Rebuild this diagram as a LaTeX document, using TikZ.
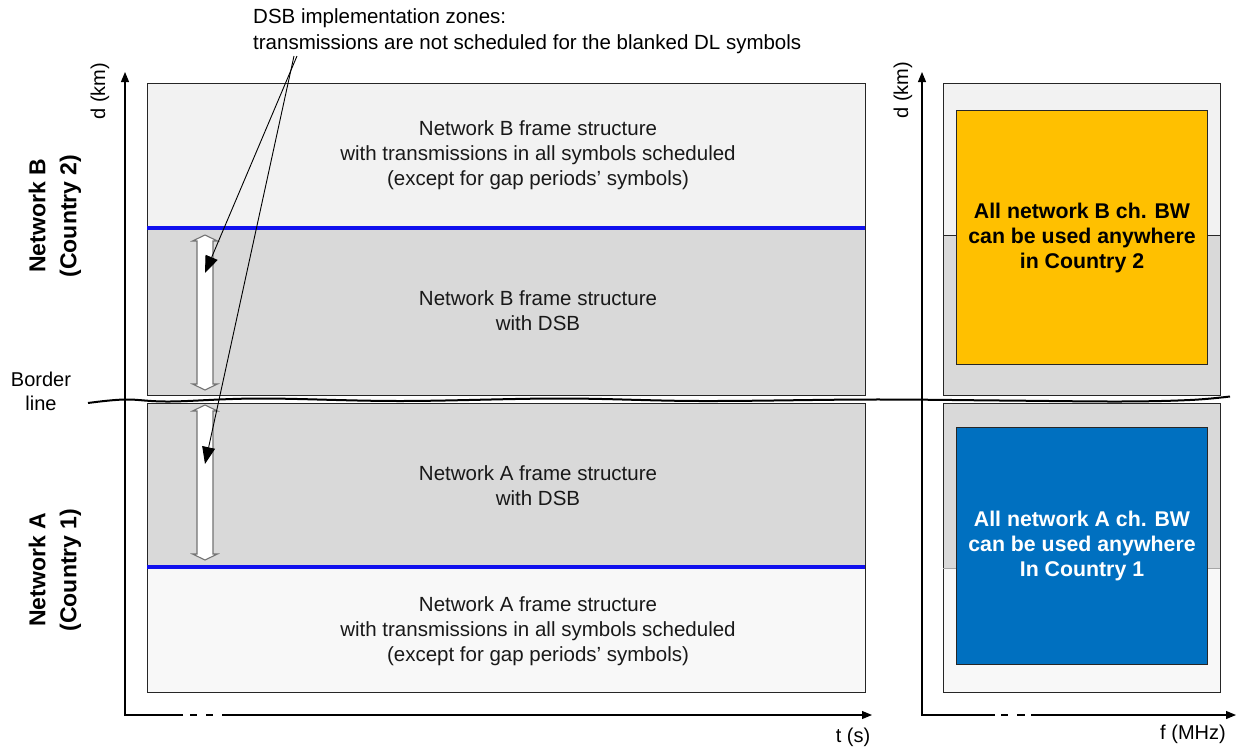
\documentclass[tikz,border=0pt]{standalone}
\usepackage{fontspec}
\setmainfont{Liberation Sans}
\usetikzlibrary{arrows.meta}
\definecolor{lightB}{HTML}{F2F2F2}
\definecolor{lightA}{HTML}{F8F8F8}
\definecolor{grayf}{HTML}{D9D9D9}
\definecolor{orangeC}{HTML}{FFC000}
\definecolor{blueC}{HTML}{0070C0}
\definecolor{blueL}{HTML}{1010EE}
\begin{document}
\begin{tikzpicture}[x=1pt,y=-1pt,
  box/.style={draw=black!85, line width=1pt},
  lbl/.style={font=\fontsize{20.5}{25}\selectfont, align=center, text=black!90},
  bl/.style={font=\bfseries\fontsize{21.3}{25}\selectfont, align=center},
  side/.style={font=\bfseries\fontsize{23}{31}\selectfont, align=center, rotate=90},
  axis/.style={line width=1.1pt, -{Triangle[length=10pt,width=8pt]}},
  axisline/.style={line width=1.1pt},
  callout/.style={line width=0.9pt, -{Triangle[length=17pt,width=13pt]}},
  dbl/.style={draw=black!55, fill=white, line width=1.1pt},
  blueline/.style={draw=blueL, line width=3.5pt},
  small/.style={font=\fontsize{20}{22}\selectfont}]
\useasboundingbox (0,0) rectangle (1237,747);
% left panel upper
\fill[lightB] (147,83) rectangle (865,228);
\fill[grayf] (147,228) rectangle (865,395);
\draw[box] (147,83) rectangle (865,395);
\draw[blueline] (147,228) -- (865,228);
% left panel lower
\fill[grayf] (147,403) rectangle (865,567);
\fill[lightA] (147,567) rectangle (865,692);
\draw[box] (147,403) rectangle (865,692);
\draw[blueline] (147,567) -- (865,567);
% right panel
\fill[lightB] (943,83) rectangle (1220,235);
\fill[grayf] (943,235) rectangle (1220,395);
\draw[box] (943,83) rectangle (1220,395);
\draw[black!85, line width=1pt] (943,235) -- (1220,235);
\fill[grayf] (943,403) rectangle (1220,568);
\fill[lightA] (943,568) rectangle (1220,692);
\draw[box] (943,403) rectangle (1220,692);
\draw[gray!70, line width=0.8pt] (943,568) -- (1220,568);
\node[draw=black!85, line width=1pt, fill=orangeC, minimum width=251pt, minimum height=254pt, inner sep=0pt, anchor=north west, bl] (ob) at (956,110) {All network B ch. BW\\can be used anywhere\\in Country 2};
\node[draw=black!85, line width=1pt, fill=blueC, minimum width=251pt, minimum height=237pt, inner sep=0pt, anchor=north west, bl, text=white] (bb) at (956,427) {All network A ch. BW\\can be used anywhere\\In Country 1};
% texts in left panel
\node[lbl] (t1) at (538,155) {Network B frame structure\\with transmissions in all symbols scheduled\\(except for gap periods’ symbols)};
\node[lbl] (t2) at (538,311) {Network B frame structure\\with DSB};
\node[lbl] (t3) at (538,486) {Network A frame structure\\with DSB};
\node[lbl] (t4) at (538,631) {Network A frame structure\\with transmissions in all symbols scheduled\\(except for gap periods’ symbols)};
% double arrows
\newcommand{\dblarr}[3]{\draw[dbl] (#1,#2) -- (#1+12.5,#2+6) -- (#1+8,#2+6) -- (#1+8,#3-6) -- (#1+12.5,#3-6) -- (#1,#3) -- (#1-12.5,#3-6) -- (#1-8,#3-6) -- (#1-8,#2+6) -- (#1-12.5,#2+6) -- cycle;}
\dblarr{205}{235}{390}
\dblarr{205}{405}{560}
% border line
\draw[line width=2pt] plot[smooth, tension=0.6] coordinates {(88,403) (125,399.5) (170,401.5) (260,398.5) (400,401) (560,398.5) (700,401) (870,399.5) (1000,400.5) (1120,401.5) (1190,400) (1230,396.5)};
\node[font=\fontsize{20}{24}\selectfont, align=center] (border) at (41,391) {Border\\line};
% axes left
\draw[axis] (183,715) -- (125,715) -- (125,72);
\draw[axisline] (190,715) -- (197,715) (206,715) -- (213,715);
\draw[axis] (222,715) -- (872,715);
% axes right
\draw[axis] (995,715) -- (922,715) -- (922,72);
\draw[axisline] (1001,715) -- (1008,715) (1017,715) -- (1025,715);
\draw[axis] (1031,715) -- (1236,715);
\node[small, rotate=90] (dl) at (100,91) {d (km)};
\node[small, rotate=90] (dr) at (903,90) {d (km)};
\node[small] (ts) at (853,737) {t (s)};
\node[small] (fm) at (1193,734) {f (MHz)};
% side labels
\node[side] (nb) at (55,216) {Network B\\(Country 2)};
\node[side] (na) at (55,570) {Network A\\(Country 1)};
% callout
\node[font=\fontsize{20.5}{26}\selectfont, align=left, anchor=north west, inner sep=0pt] (dsb) at (253,8) {DSB implementation zones:\\transmissions are not scheduled for the blanked DL symbols};
\coordinate (c1) at (297,56);
\coordinate (c2) at (294,56);
\coordinate (e1) at (205,273);
\coordinate (e2) at (205,464);
\draw[callout] (c1) -- (e1);
\draw[callout] (c2) -- (e2);
\end{tikzpicture}
\end{document}
